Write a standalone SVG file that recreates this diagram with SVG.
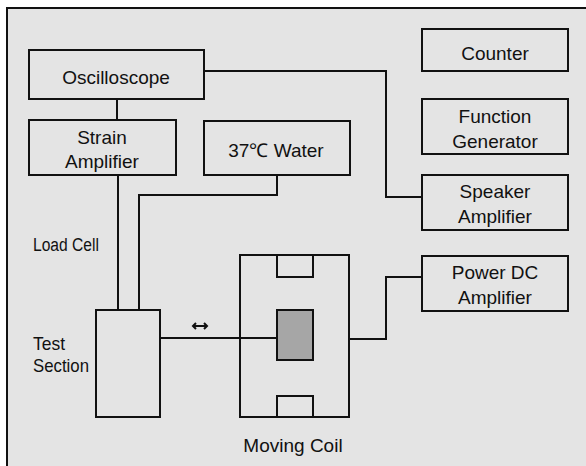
<svg xmlns="http://www.w3.org/2000/svg" width="586" height="466" viewBox="0 0 586 466">
<style>
.box{fill:#e4e4e4;stroke:#111;stroke-width:2}
.ln{fill:none;stroke:#111;stroke-width:2}
text{font-family:"Liberation Sans",Arial,sans-serif;font-size:19px;fill:#111}
.c{text-anchor:middle}
.s{font-size:18px}
</style>
<rect x="0" y="0" width="586" height="466" fill="#fff"/>
<rect x="7" y="8" width="586" height="466" fill="#e4e4e4"/>
<path class="ln" d="M7,466 V8 H586"/>
<g id="connectors">
<path class="ln" d="M204,71 H386 V197 H422"/>
<path class="ln" d="M117,99 V120"/>
<path class="ln" d="M118,175 V310"/>
<path class="ln" d="M277,175 V195 H139 V310"/>
<path class="ln" d="M160,338 H277"/>
<path class="ln" d="M349,339 H386 V277 H422"/>
<g id="arrow">
<path class="ln" stroke-width="1.2" d="M193,326 H207 M196,323 L193,326 L196,329 M204,323 L207,326 L204,329"/>
</g>
</g>
<g id="oscilloscope"><rect class="box" x="29" y="50" width="175" height="49"/><text class="c" x="116" y="84">Oscilloscope</text></g>
<g id="strain-amplifier"><rect class="box" x="29" y="120" width="147" height="55"/><text class="c" x="102" y="144">Strain</text><text class="c" x="102" y="168">Amplifier</text></g>
<g id="water"><rect class="box" x="204" y="121" width="146" height="54"/><text class="c" x="276" y="157">37℃ Water</text></g>
<g id="counter"><rect class="box" x="422" y="29" width="146" height="42"/><text class="c" x="495" y="60">Counter</text></g>
<g id="function-generator"><rect class="box" x="422" y="99" width="146" height="55"/><text class="c" x="495" y="123">Function</text><text class="c" x="495" y="148">Generator</text></g>
<g id="speaker-amplifier"><rect class="box" x="422" y="175" width="146" height="55"/><text class="c" x="495" y="198">Speaker</text><text class="c" x="495" y="223">Amplifier</text></g>
<g id="power-dc-amplifier"><rect class="box" x="422" y="256" width="146" height="55"/><text class="c" x="495" y="279">Power DC</text><text class="c" x="495" y="304">Amplifier</text></g>
<g id="load-cell"><text class="s" x="33" y="251" textLength="66" lengthAdjust="spacingAndGlyphs">Load Cell</text></g>
<g id="test-section"><rect class="box" x="96" y="310" width="64" height="107"/><text x="33" y="350" textLength="32" lengthAdjust="spacingAndGlyphs">Test</text><text x="33" y="372" textLength="56" lengthAdjust="spacingAndGlyphs">Section</text></g>
<g id="moving-coil">
<rect class="ln" x="240" y="255" width="109" height="162"/>
<path class="ln" d="M240,338 H277"/>
<rect class="box" x="277" y="255" width="36" height="22"/>
<rect class="box" x="277" y="396" width="36" height="21"/>
<rect x="277" y="310" width="36" height="50" fill="#a6a6a6" stroke="#111" stroke-width="2"/>
<text class="c" x="293" y="452">Moving Coil</text>
</g>
</svg>
